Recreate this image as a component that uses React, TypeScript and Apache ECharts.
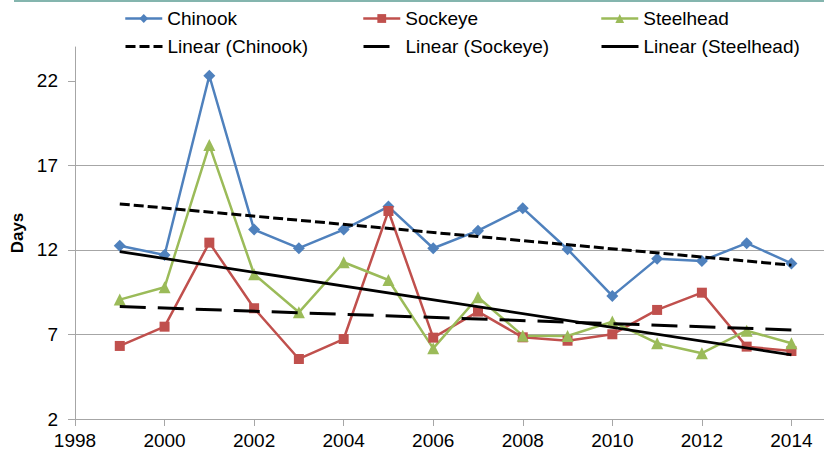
import React, { useEffect, useRef } from "react";
import * as echarts from "echarts";

const years = [1999, 2000, 2001, 2002, 2003, 2004, 2005, 2006, 2007, 2008, 2009, 2010, 2011, 2012, 2013, 2014];
const chinook = [12.25, 11.7, 22.3, 13.2, 12.1, 13.2, 14.56, 12.1, 13.14, 14.47, 12.04, 9.28, 11.47, 11.35, 12.4, 11.2];
const sockeye = [6.32, 7.46, 12.43, 8.55, 5.55, 6.73, 14.3, 6.81, 8.35, 6.83, 6.63, 7.01, 8.45, 9.47, 6.28, 6.02];
const steelhead = [9.06, 9.79, 18.2, 10.56, 8.31, 11.27, 10.22, 6.18, 9.2, 6.93, 6.91, 7.76, 6.48, 5.89, 7.22, 6.48];

const trendYears = [1999, 2014];
const chinookTrend = [14.72, 11.1];
const sockeyeTrend = [8.65, 7.27];
const steelheadTrend = [11.9, 5.79];

const legendNames = ["Chinook", "Sockeye", "Steelhead", "Linear (Chinook)", "Linear (Sockeye)", "Linear (Steelhead)"];

const pair = (xs: number[], ys: number[]) => xs.map((x, i) => [x, ys[i]]);

const FONT = "'Liberation Sans', Arial, sans-serif";

export default function App() {
  const ref = useRef<HTMLDivElement>(null);
  useEffect(() => {
    if (!ref.current) return;
    const chart = echarts.init(ref.current, null, { renderer: "svg" });
    const dataSeries = (name: string, ys: number[], color: string, symbol: string, size: number) => ({
      name,
      type: "line",
      data: pair(years, ys),
      symbol,
      symbolSize: size,
      itemStyle: { color },
      lineStyle: { color, width: 2.5 },
      z: 2,
    });
    const trendSeries = (name: string, ys: number[], type: any, width: number) => ({
      name,
      type: "line",
      data: pair(trendYears, ys),
      symbol: "none",
      itemStyle: { color: "#000" },
      lineStyle: { color: "#000", width, type },
      z: 3,
    });
    const legendPos = [
      [124, 9],
      [362, 9],
      [600, 9],
      [124, 37],
      [362, 37],
      [600, 37],
    ];
    const legends = legendNames.map((n, i) => {
      const base: any = {
        data: [n],
        left: legendPos[i][0],
        top: legendPos[i][1],
        padding: 0,
        itemWidth: 37,
        itemHeight: 11,
        textStyle: { fontFamily: FONT, fontSize: 19, color: "#000" },
      };
      if (i >= 3) {
        base.itemStyle = { opacity: 0 };
        base.lineStyle = { width: 3 };
      } else {
        base.lineStyle = { width: 2.5 };
      }
      return base;
    });
    chart.setOption({
      animation: false,
      backgroundColor: "#fff",
      textStyle: { fontFamily: FONT },
      legend: legends,
      grid: { left: 75, top: 47, bottom: 34, right: -57, outerBoundsMode: "none" },
      xAxis: {
        type: "value",
        min: 1998,
        max: 2016,
        interval: 2,
        axisLine: { show: true, lineStyle: { color: "#A6A6A6", width: 1 } },
        axisTick: { show: true, length: 7, lineStyle: { color: "#A6A6A6" } },
        splitLine: { show: false },
        axisLabel: {
          formatter: (v: number) => String(v),
          showMaxLabel: false,
          fontFamily: FONT,
          fontSize: 19,
          color: "#000",
          margin: 12,
        },
      },
      yAxis: {
        type: "value",
        min: 2,
        max: 24,
        interval: 5,
        name: "Days",
        nameLocation: "middle",
        nameRotate: 90,
        nameGap: 42,
        nameTextStyle: { fontFamily: FONT, fontSize: 17, fontWeight: "bold", color: "#000" },
        axisLine: { show: true, lineStyle: { color: "#A6A6A6", width: 1 } },
        axisTick: { show: true, length: 7, lineStyle: { color: "#A6A6A6" }, customValues: [2, 7, 12, 17, 22] },
        splitLine: { show: true, showMaxLine: false, lineStyle: { color: "#A6A6A6", width: 1 } },
        axisLabel: {
          showMaxLabel: false,
          fontFamily: FONT,
          fontSize: 19,
          color: "#000",
          margin: 17,
        },
      },
      graphic: [
        { type: "rect", left: 14, top: 0, shape: { width: 810, height: 2 }, style: { fill: "#84B5AE" }, silent: true },
      ],
      series: [
        dataSeries("Chinook", chinook, "#4F81BD", "diamond", 12),
        dataSeries("Sockeye", sockeye, "#C0504D", "rect", 10),
        dataSeries("Steelhead", steelhead, "#9BBB59", "triangle", 12),
        trendSeries("Linear (Chinook)", chinookTrend, [10, 4], 3),
        trendSeries("Linear (Sockeye)", sockeyeTrend, [26, 12], 3),
        trendSeries("Linear (Steelhead)", steelheadTrend, "solid", 2.8),
      ],
    });
    return () => chart.dispose();
  }, []);
  return (
    <div
      ref={ref}
      style={{ position: "fixed", left: 0, top: 0, width: 824, height: 453 }}
    />
  );
}
